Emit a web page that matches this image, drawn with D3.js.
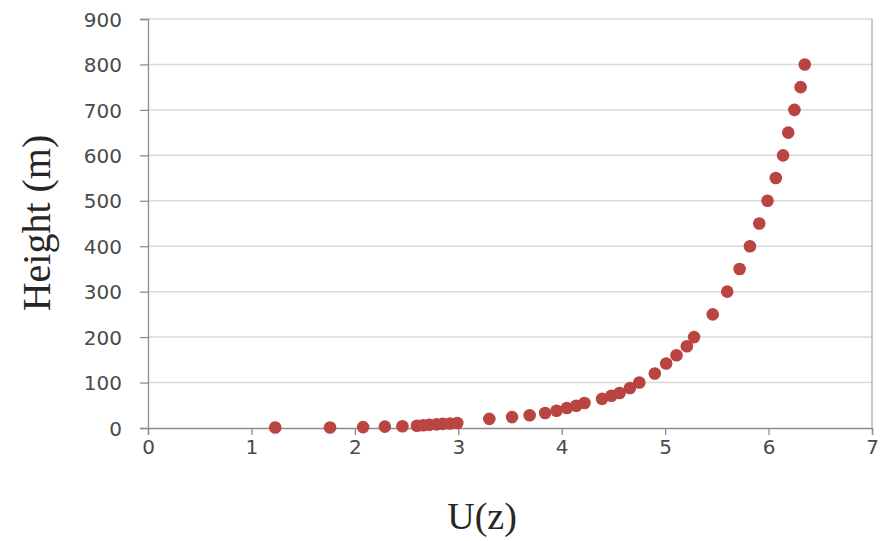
<!DOCTYPE html>
<html>
<head>
<meta charset="utf-8">
<script src="https://cdn.jsdelivr.net/npm/d3@7"></script>
<style>
  body { margin: 0; background: #fff; }
</style>
</head>
<body>
<div id="chart"></div>
<script>
// wind speed U(z) against height (m)
const windSpeed = [1.23, 1.76, 2.08, 2.29, 2.46, 2.60, 2.66, 2.72, 2.79, 2.85, 2.92, 2.99,
  3.30, 3.52, 3.69, 3.84, 3.95, 4.05, 4.14, 4.22, 4.39, 4.48, 4.56, 4.66, 4.75,
  4.90, 5.01, 5.11, 5.21, 5.28, 5.46, 5.60, 5.72, 5.82, 5.91, 5.99, 6.07, 6.14,
  6.19, 6.25, 6.31, 6.35];
const heights = [1, 1, 2, 3, 4, 5, 6, 7, 8, 9, 10, 11,
  20, 24, 28, 33, 38, 44, 49, 55, 64, 71, 77, 88, 100,
  120, 142, 160, 180, 200, 250, 300, 350, 400, 450, 500, 550, 600,
  650, 700, 750, 800];
const xTicks = [0, 1, 2, 3, 4, 5, 6, 7];
const yTicks = [0, 100, 200, 300, 400, 500, 600, 700, 800, 900];

const width = 884, height = 541;
const margin = { top: 19, right: 12, bottom: 113, left: 148 };

const svg = d3.select('#chart')
  .append('svg')
    .attr('width', width)
    .attr('height', height);

const x = d3.scaleLinear()
  .domain([0, 7])
  .range([margin.left, width - margin.right]);

const y = d3.scaleLinear()
  .domain([0, 900])
  .range([height - margin.bottom, margin.top]);

// horizontal gridlines
svg.append('g')
  .selectAll('line')
  .data(yTicks.slice(1))
  .enter()
  .append('line')
    .attr('x1', x(0))
    .attr('x2', x(7))
    .attr('y1', d => y(d))
    .attr('y2', d => y(d))
    .attr('stroke', '#d9d9d9')
    .attr('stroke-width', 1.5);

// right edge of the plot area
svg.append('line')
  .attr('x1', x(7)).attr('x2', x(7))
  .attr('y1', y(900)).attr('y2', y(0))
  .attr('stroke', '#a6a6a6')
  .attr('stroke-width', 1.2);

const xAxis = svg.append('g')
  .attr('transform', 'translate(0,' + y(0) + ')')
  .call(d3.axisBottom(x).tickValues(xTicks).tickSize(7).tickPadding(3).tickFormat(d3.format('d')));

const yAxis = svg.append('g')
  .attr('transform', 'translate(' + x(0) + ',0)')
  .call(d3.axisLeft(y).tickValues(yTicks).tickSize(8).tickPadding(18).tickFormat(d3.format('d')));

[xAxis, yAxis].forEach(g => {
  g.select('.domain').attr('stroke', '#8c8c8c').attr('stroke-width', 1.3);
  g.selectAll('.tick line').attr('stroke', '#8c8c8c').attr('stroke-width', 1.3);
  g.selectAll('.tick text')
    .attr('fill', '#4a4a4a')
    .style('font-family', '"DejaVu Sans", Verdana, sans-serif')
    .style('font-size', '20px');
});
xAxis.selectAll('.tick text').attr('dy', '0.8em');
yAxis.selectAll('.tick text').attr('dy', '0.36em');

// points
svg.append('g')
  .selectAll('circle')
  .data(windSpeed.map((u, i) => ({ u: u, h: heights[i] })))
  .enter()
  .append('circle')
    .attr('cx', d => x(d.u))
    .attr('cy', d => y(d.h))
    .attr('r', 6.3)
    .attr('fill', '#b94442');

// axis titles
svg.append('text')
  .attr('x', 482)
  .attr('y', 529)
  .attr('text-anchor', 'middle')
  .attr('fill', '#262626')
  .style('font-family', '"Liberation Serif", "Times New Roman", serif')
  .style('font-size', '38px')
  .text('U(z)');

svg.append('text')
  .attr('transform', 'translate(50,' + 223 + ') rotate(-90)')
  .attr('text-anchor', 'middle')
  .attr('fill', '#262626')
  .style('font-family', '"Liberation Serif", "Times New Roman", serif')
  .style('font-size', '40px')
  .text('Height (m)');
</script>
</body>
</html>
